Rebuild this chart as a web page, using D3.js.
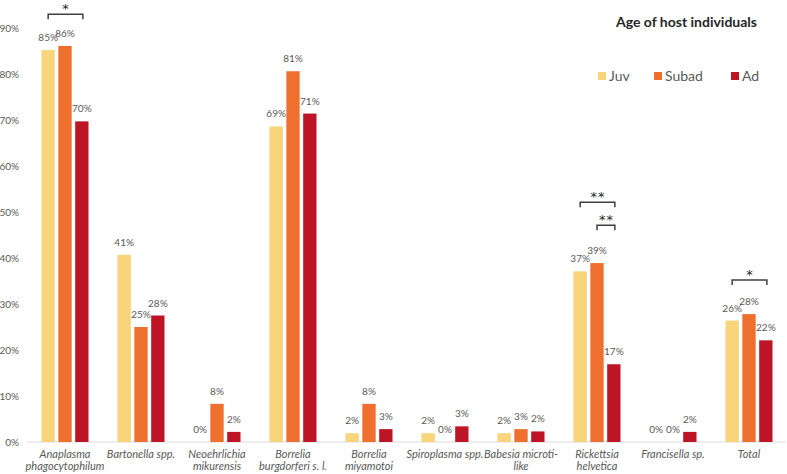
<!DOCTYPE html>
<html>
<head>
<meta charset="utf-8">
<script src="https://cdn.jsdelivr.net/npm/d3@7"></script>
<style>
  body { margin: 0; background: #fff; }
  text { font-family: Lato, "Liberation Sans", Arial, sans-serif; }
</style>
</head>
<body>
<div id="chart"></div>
<script>
// categories (two label lines each)
const categories = [
    ["Anaplasma", "phagocytophilum"],
    ["Bartonella spp."],
    ["Neoehrlichia", "mikurensis"],
    ["Borrelia", "burgdorferi s. l."],
    ["Borrelia", "miyamotoi"],
    ["Spiroplasma spp."],
    ["Babesia microti-", "like"],
    ["Rickettsia", "helvetica"],
    ["Francisella sp."],
    ["Total"]
];
const seriesNames = ["Juv", "Subad", "Ad"];
const juv   = [85.2, 40.7, 0, 68.6, 1.9, 1.9, 1.9, 37.1, 0, 26.4];
const subad = [86.1, 25.0, 8.3, 80.6, 8.3, 0, 2.8, 38.9, 0, 27.8];
const ad    = [69.7, 27.5, 2.2, 71.4, 2.8, 3.4, 2.3, 16.9, 2.2, 22.1];
const yTicks = [0, 10, 20, 30, 40, 50, 60, 70, 80, 90];
// significance brackets: category index, series from/to, level (%), label
const brackets = [
    { cat: 0, from: 0, to: 2, level: 93.0, label: "*" },
    { cat: 7, from: 0, to: 2, level: 52.1, label: "**" },
    { cat: 7, from: 1, to: 2, level: 47.1, label: "**" },
    { cat: 9, from: 0, to: 2, level: 35.2, label: "*" }
];
const colors = ["#F8D47A", "#EF6F2E", "#BD1426"];

const width = 787, height = 474;
const svg = d3.select("#chart").append("svg")
    .attr("width", width)
    .attr("height", height);

const x = d3.scaleBand().domain(d3.range(categories.length)).range([27, 787]);
const groupW = 47;
const xSub = d3.scaleBand().domain(d3.range(3)).range([0, groupW]).paddingInner(0.21);
const y = d3.scaleLinear().domain([0, 90]).range([442, 28]);

const groupX = i => x(i) + (x.bandwidth() - groupW) / 2;

// y labels
svg.append("g").selectAll("text")
    .data(yTicks)
    .enter()
    .append("text")
    .attr("x", 19)
    .attr("y", d => y(d) + 3.5)
    .attr("text-anchor", "end")
    .style("font-size", "10px")
    .style("fill", "#595959")
    .text(d => d + "%");

// baseline
svg.append("line")
    .attr("x1", 27).attr("x2", 786)
    .attr("y1", y(0)).attr("y2", y(0))
    .attr("stroke", "#d9d9d9")
    .attr("stroke-width", 1);

const values = [juv, subad, ad];

values.forEach((vals, s) => {
    const g = svg.append("g");
    g.selectAll("rect")
        .data(vals)
        .enter()
        .append("rect")
        .attr("x", (d, i) => groupX(i) + xSub(s))
        .attr("y", d => y(d))
        .attr("width", xSub.bandwidth())
        .attr("height", d => y(0) - y(d))
        .style("fill", colors[s]);

    g.selectAll("text")
        .data(vals)
        .enter()
        .append("text")
        .attr("x", (d, i) => groupX(i) + xSub(s) + xSub.bandwidth() / 2)
        .attr("y", d => y(d) - 9)
        .attr("text-anchor", "middle")
        .style("font-size", "10px")
        .style("fill", "#595959")
        .text(d => Math.round(d) + "%");
});

// category labels
const cat = svg.append("g").selectAll("text")
    .data(categories)
    .enter()
    .append("text")
    .attr("x", (d, i) => x(i) + x.bandwidth() / 2)
    .attr("y", 458)
    .attr("text-anchor", "middle")
    .style("font-size", "11px")
    .style("font-style", "italic")
    .style("fill", "#595959");

cat.selectAll("tspan")
    .data(d => d)
    .enter()
    .append("tspan")
    .attr("x", function () { return d3.select(this.parentNode).attr("x"); })
    .attr("dy", (d, i) => i === 0 ? 0 : 12)
    .text(d => d);

// brackets
const br = svg.append("g").selectAll("g")
    .data(brackets)
    .enter()
    .append("g");

const bx = (c, s) => groupX(c) + xSub(s) + xSub.bandwidth() / 2;

br.append("path")
    .attr("d", d => {
        const x1 = bx(d.cat, d.from), x2 = bx(d.cat, d.to) + 1, yy = y(d.level);
        return `M${x1},${yy + 5}V${yy}H${x2}V${yy + 5}`;
    })
    .attr("fill", "none")
    .attr("stroke", "#404040")
    .attr("stroke-width", 1.5);

br.append("text")
    .attr("x", d => (bx(d.cat, d.from) + bx(d.cat, d.to)) / 2 + 1)
    .attr("y", d => y(d.level) - 1)
    .attr("text-anchor", "middle")
    .style("font-family", "'DejaVu Sans', sans-serif")
    .style("font-size", "13px")
    .style("letter-spacing", "1px")
    .style("fill", "#262626")
    .text(d => d.label);

// legend
svg.append("text")
    .attr("x", 757)
    .attr("y", 27)
    .attr("text-anchor", "end")
    .style("font-size", "14px")
    .style("font-weight", "bold")
    .style("fill", "#262626")
    .text("Age of host individuals");

const legendX = [598, 654, 731];
const leg = svg.append("g").selectAll("g")
    .data(seriesNames)
    .enter()
    .append("g")
    .attr("transform", (d, i) => `translate(${legendX[i]}, 72)`);

leg.append("rect")
    .attr("width", 8)
    .attr("height", 8)
    .style("fill", (d, i) => colors[i]);

leg.append("text")
    .attr("x", 11)
    .attr("y", 8.5)
    .style("font-size", "14px")
    .style("fill", "#595959")
    .text(d => d);
</script>
</body>
</html>
